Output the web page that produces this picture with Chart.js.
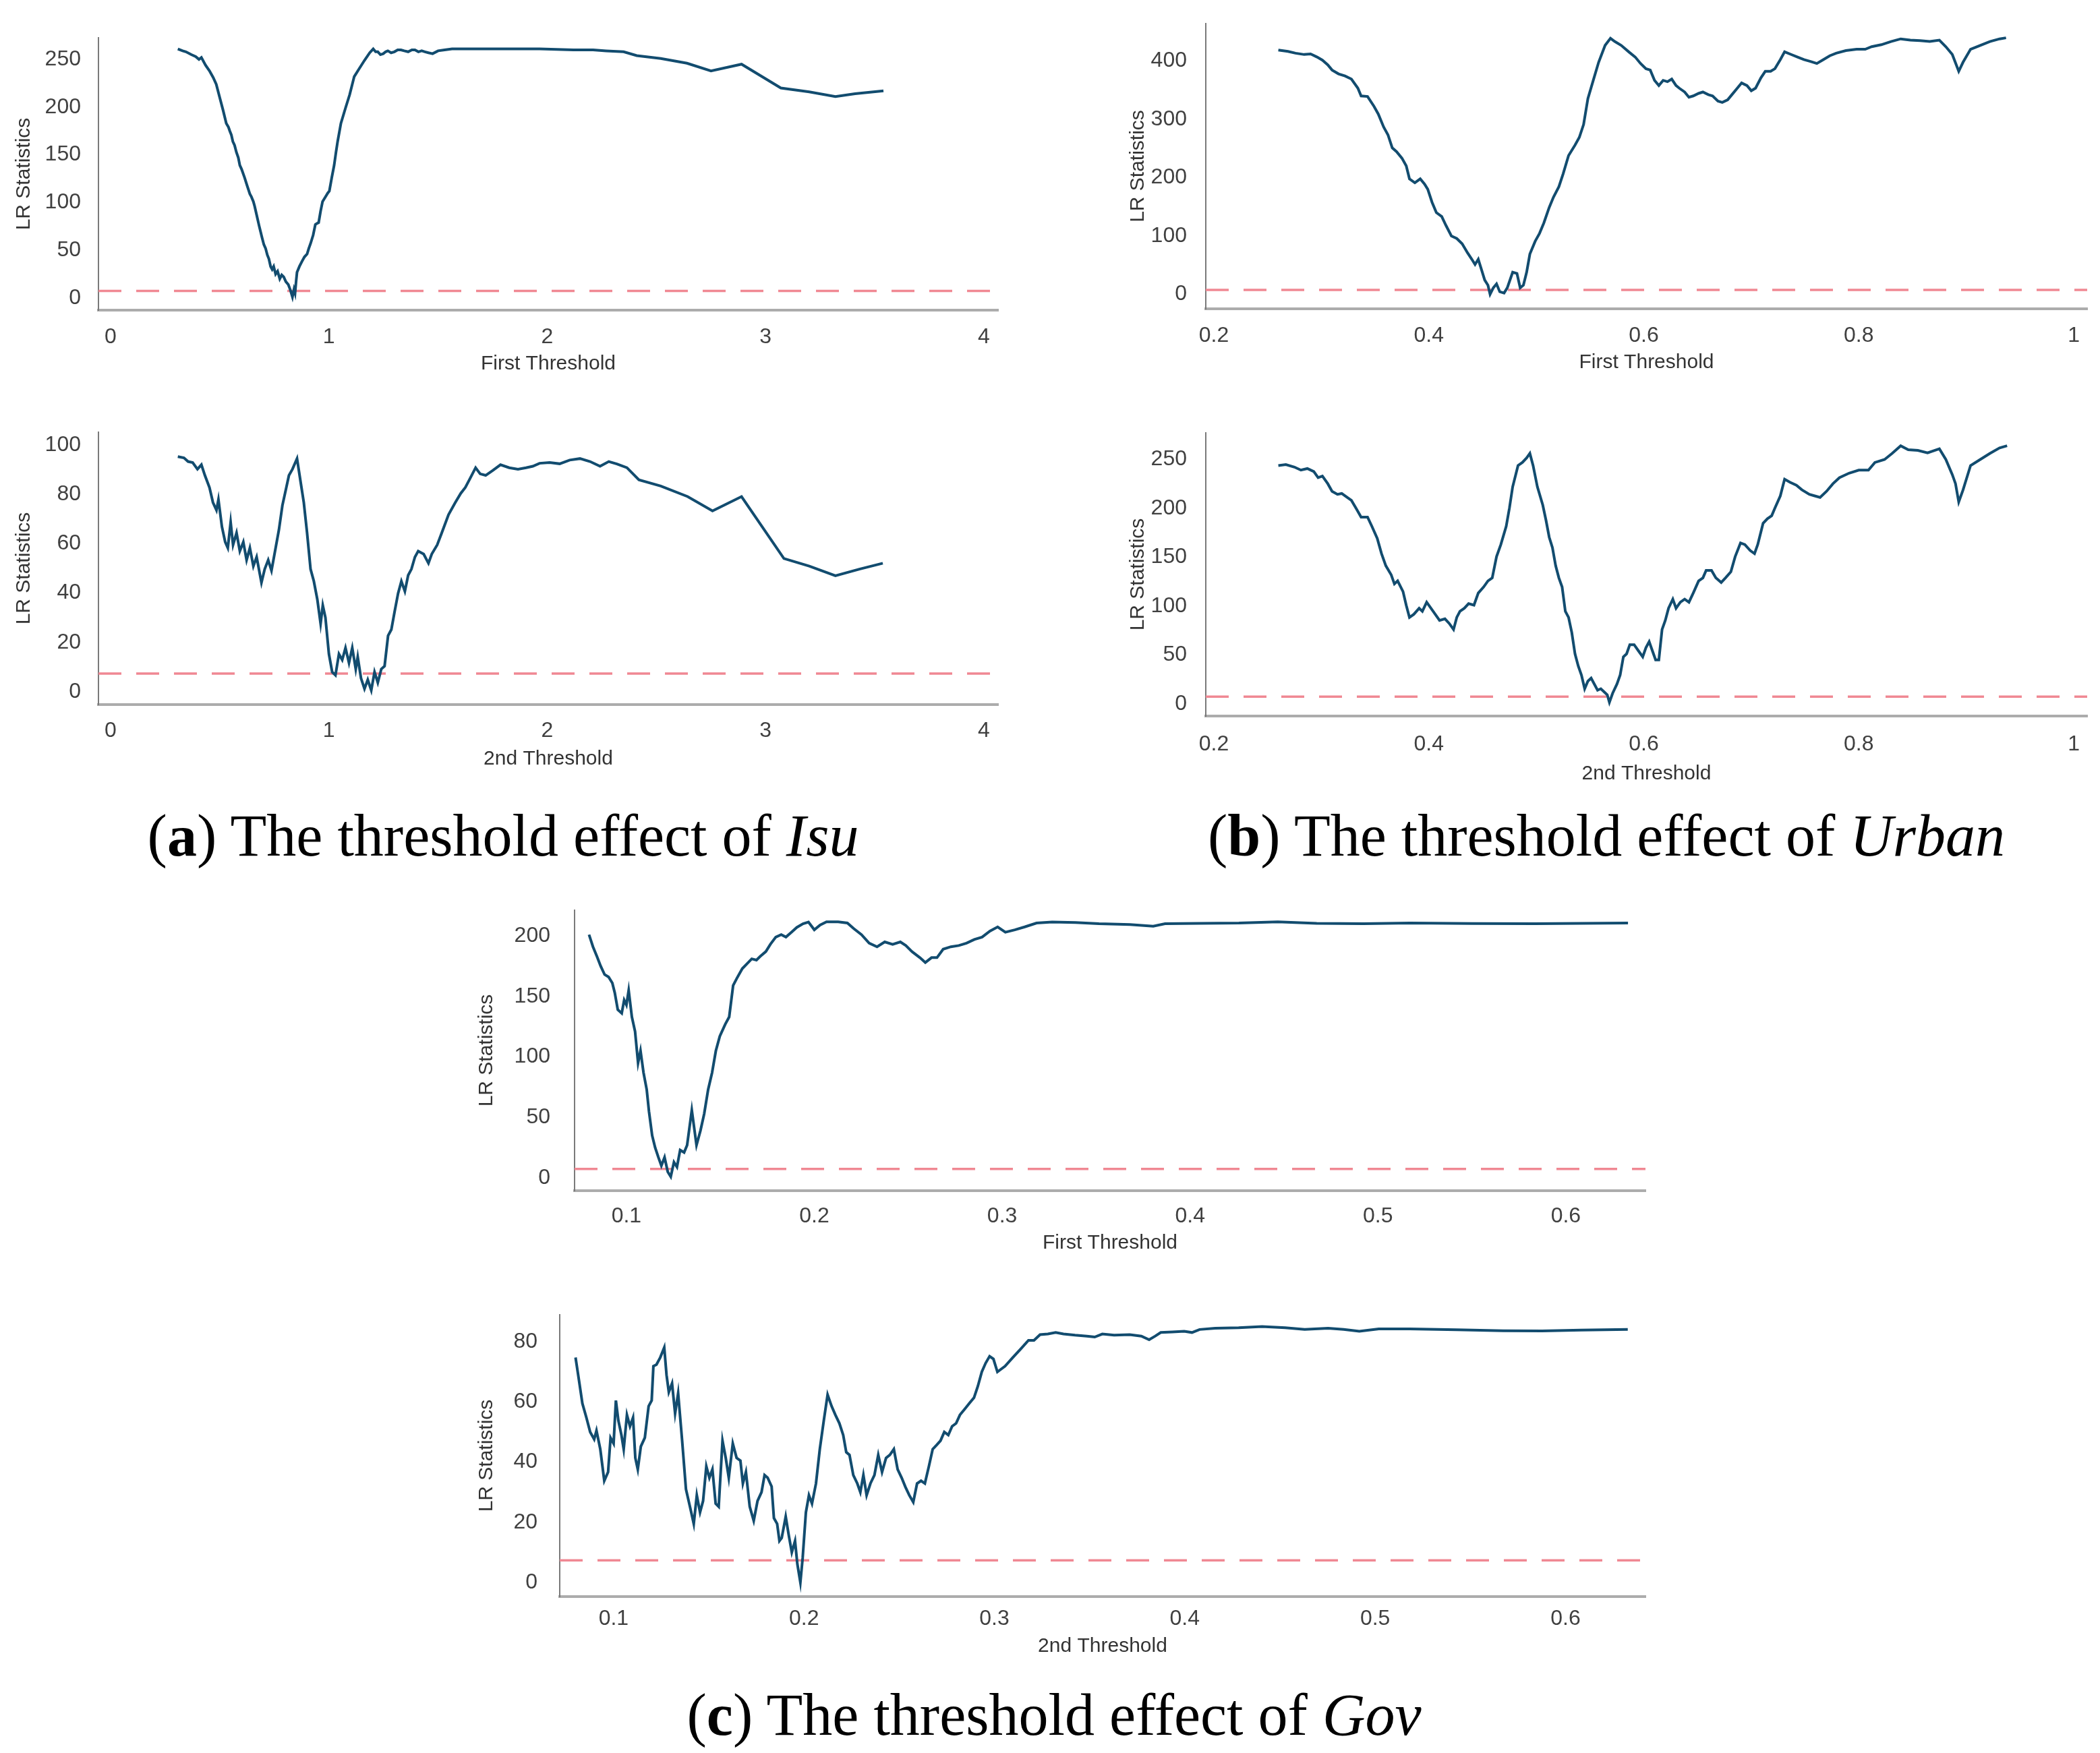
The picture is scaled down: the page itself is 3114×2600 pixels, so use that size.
<!DOCTYPE html>
<html>
<head>
<meta charset="utf-8">
<script src="https://cdn.jsdelivr.net/npm/chart.js@4.4.0/dist/chart.umd.min.js"></script>
<style>
  body { margin: 0; background: #fff; width: 3114px; height: 2600px; position: relative; overflow: hidden; }
  canvas { position: absolute; }
  .cap { position: absolute; transform: translate(-50%, -50%); font-family: "Liberation Serif", "Times New Roman", serif;
         font-size: 88px; line-height: 1; white-space: nowrap; color: #000; }
</style>
</head>
<body>
<div class="cap" style="left:746px; top:1240px">(<b>a</b>) The threshold effect of <i>Isu</i></div>
<div class="cap" style="left:2382px; top:1240px">(<b>b</b>) The threshold effect of <i>Urban</i></div>
<div class="cap" style="left:1563px; top:2544px">(<b>c</b>) The threshold effect of <i>Gov</i></div>

<script>
// critical value of the LR test (dashed line)
const criticalLR = 7.35;

// tick labels
const isuTicksX = [0, 1, 2, 3, 4];
const isuTicksY1 = [0, 50, 100, 150, 200, 250];
const isuTicksY2 = [0, 20, 40, 60, 80, 100];
const urbanTicksX = [0.2, 0.4, 0.6, 0.8, 1];
const urbanTicksY1 = [0, 100, 200, 300, 400];
const urbanTicksY2 = [0, 50, 100, 150, 200, 250];
const govTicksX = [0.1, 0.2, 0.3, 0.4, 0.5, 0.6];
const govTicksY1 = [0, 50, 100, 150, 200];
const govTicksY2 = [0, 20, 40, 60, 80];

// LR statistics, [threshold, LR]
const isuFirst = [[0.308,261],[0.33,259],[0.345,258],[0.37,255],[0.39,253],[0.405,250],[0.416,252],[0.435,244],[0.453,238],[0.47,231],[0.484,224],[0.5,210],[0.515,197],[0.53,183],[0.54,179],[0.546,175],[0.553,171],[0.56,164],[0.568,160],[0.576,153],[0.585,147],[0.592,139],[0.6,135],[0.614,126],[0.625,118],[0.638,109],[0.645,106],[0.654,101],[0.66,96],[0.669,87],[0.68,76],[0.694,63],[0.702,56],[0.71,52],[0.718,45],[0.725,41],[0.733,33],[0.74,30],[0.747,33],[0.756,25],[0.765,28],[0.775,20],[0.784,24],[0.793,22],[0.803,17],[0.814,14],[0.824,8],[0.833,1],[0.84,9],[0.845,5],[0.85,18],[0.854,27],[0.865,33],[0.876,38],[0.888,43],[0.9,46],[0.908,52],[0.916,57],[0.928,66],[0.938,77],[0.945,78],[0.953,79],[0.962,91],[0.971,101],[0.979,104],[0.987,107],[0.995,110],[1.002,112],[1.013,126],[1.024,139],[1.032,152],[1.04,164],[1.055,183],[1.076,199],[1.095,213],[1.116,232],[1.138,240],[1.163,249],[1.187,257],[1.203,261],[1.214,258],[1.224,258],[1.236,255],[1.249,256],[1.26,258],[1.27,259],[1.285,257],[1.3,258],[1.315,260],[1.33,260],[1.345,259],[1.363,258],[1.38,260],[1.394,260],[1.41,258],[1.425,259],[1.44,258],[1.456,257],[1.475,256],[1.5,259],[1.53,260],[1.564,261],[1.656,261],[1.81,261],[1.965,261],[2.12,260],[2.21,260],[2.27,259],[2.35,258],[2.41,254],[2.52,251],[2.64,246],[2.75,238],[2.89,245],[3.07,220],[3.2,216],[3.32,211],[3.41,214],[3.54,217]];

const isuSecond = [[0.308,95.3],[0.336,94.8],[0.355,93.3],[0.376,92.9],[0.398,90.2],[0.416,92],[0.432,87.7],[0.453,82.8],[0.469,76.7],[0.485,73.6],[0.494,77.9],[0.51,66.9],[0.525,60.7],[0.537,58.3],[0.55,68.7],[0.561,59.5],[0.577,64.4],[0.592,57],[0.608,60.7],[0.623,53.4],[0.638,58.3],[0.654,50.9],[0.669,54.6],[0.691,44.2],[0.706,49.7],[0.722,53.4],[0.737,49.1],[0.756,58.3],[0.771,65.6],[0.787,75.5],[0.802,81.6],[0.817,87.7],[0.833,90.2],[0.854,94.5],[0.87,85.3],[0.885,76.7],[0.9,64.4],[0.916,49.7],[0.931,44.8],[0.947,37.4],[0.962,27.6],[0.972,35],[0.984,30.1],[1.0,15.3],[1.015,8],[1.03,6.7],[1.046,15.3],[1.061,12.9],[1.076,17.8],[1.092,11.7],[1.107,17.8],[1.123,9.2],[1.132,14.1],[1.147,5.5],[1.163,1.2],[1.178,4.9],[1.194,0.6],[1.209,8],[1.224,3.7],[1.24,9.2],[1.255,10.4],[1.271,22.7],[1.286,25.2],[1.301,32.5],[1.317,39.9],[1.332,44.8],[1.348,40.7],[1.363,47.2],[1.378,49.7],[1.394,54.6],[1.409,57],[1.434,55.8],[1.456,52.1],[1.471,55.8],[1.496,59.5],[1.517,64.4],[1.548,71.8],[1.579,76.7],[1.604,80.4],[1.625,82.8],[1.647,86.5],[1.672,90.8],[1.693,88.3],[1.718,87.7],[1.749,89.6],[1.786,92],[1.826,90.8],[1.866,90.2],[1.903,90.8],[1.934,91.4],[1.965,92.6],[2.011,92.9],[2.057,92.4],[2.103,93.9],[2.15,94.5],[2.196,93.3],[2.242,91.4],[2.282,93.3],[2.319,92.3],[2.365,90.8],[2.42,85.9],[2.52,83.4],[2.643,79.1],[2.757,73.3],[2.89,79.1],[3.084,54],[3.2,50.9],[3.32,47],[3.43,49.7],[3.537,52.1]];

const urbanFirst = [[0.26,418.7],[0.269,416.4],[0.276,413.3],[0.284,411],[0.29,412],[0.296,406.7],[0.301,401.3],[0.306,393.3],[0.31,384.4],[0.316,377.8],[0.322,374.2],[0.328,368.9],[0.334,353.3],[0.337,340],[0.343,339.1],[0.349,322.2],[0.353,308.9],[0.358,286.7],[0.362,273.3],[0.366,251],[0.37,244.4],[0.375,233.3],[0.379,220],[0.382,197.8],[0.387,191.1],[0.392,197.8],[0.396,188.9],[0.399,180],[0.403,157.8],[0.407,140],[0.412,133.3],[0.416,117.8],[0.421,100],[0.426,95.6],[0.431,86.7],[0.436,71.1],[0.44,60],[0.443,51.1],[0.446,60],[0.449,42.2],[0.452,24.4],[0.455,15.6],[0.457,0],[0.46,11.1],[0.463,17.8],[0.466,4.4],[0.47,2.2],[0.473,11.1],[0.478,37.8],[0.482,35.6],[0.485,11.1],[0.488,15.6],[0.491,37.8],[0.494,68.9],[0.499,91.1],[0.503,104.4],[0.507,122.2],[0.512,148.9],[0.516,166.7],[0.521,184.4],[0.525,206.7],[0.53,237.8],[0.536,255.6],[0.54,268.9],[0.544,291.1],[0.548,335.6],[0.553,366.7],[0.558,397.8],[0.564,426.7],[0.569,438.7],[0.573,433.3],[0.579,426.7],[0.586,415.6],[0.592,406.7],[0.597,395.6],[0.602,386.7],[0.606,384.4],[0.61,366.7],[0.614,357.8],[0.618,366.7],[0.622,364.4],[0.626,368.9],[0.63,357.8],[0.633,353.3],[0.638,346.7],[0.642,337.8],[0.646,340],[0.651,344.4],[0.655,346.7],[0.66,342.2],[0.664,340],[0.669,331.1],[0.673,328.9],[0.678,333.3],[0.682,342.2],[0.687,353.3],[0.691,362.2],[0.696,357.8],[0.7,348.9],[0.704,353.3],[0.709,371.1],[0.713,382.2],[0.718,382.2],[0.722,386.7],[0.727,402.2],[0.731,415.6],[0.737,411.1],[0.743,406.7],[0.749,402.2],[0.755,399.1],[0.761,395.6],[0.767,402.2],[0.773,408.9],[0.779,413.3],[0.788,417.8],[0.798,420],[0.806,420],[0.812,424.4],[0.821,427.8],[0.83,433.3],[0.839,437.8],[0.848,435.6],[0.857,434.7],[0.866,433.3],[0.875,435.6],[0.881,424.4],[0.887,411.1],[0.893,382.2],[0.897,397.8],[0.904,420],[0.913,426.7],[0.922,433.3],[0.931,437.8],[0.937,439.6]];

const urbanSecond = [[0.26,243.8],[0.267,244.7],[0.275,242.2],[0.281,239.1],[0.287,240.7],[0.293,237.6],[0.297,231.4],[0.301,233],[0.306,225.2],[0.31,217.4],[0.315,214.3],[0.319,215.2],[0.324,211.2],[0.328,208.1],[0.333,198.8],[0.337,191],[0.343,191],[0.347,181.7],[0.352,169.3],[0.356,153.7],[0.36,141.3],[0.365,132],[0.368,122.7],[0.371,125.8],[0.376,114.9],[0.379,100.9],[0.382,88.5],[0.386,91.6],[0.391,97.8],[0.394,94.7],[0.398,104],[0.402,97.8],[0.406,91.6],[0.41,85.4],[0.415,87],[0.419,82.3],[0.423,76.1],[0.426,88.5],[0.429,94.7],[0.433,97.8],[0.437,102.5],[0.442,101],[0.446,113.4],[0.451,119.6],[0.455,125.8],[0.459,128.9],[0.463,150.6],[0.467,163],[0.472,181.7],[0.475,200.3],[0.478,222],[0.483,243.8],[0.487,246.9],[0.491,251.6],[0.494,256.2],[0.497,243.8],[0.501,222],[0.506,203.4],[0.509,187.9],[0.512,170.5],[0.515,159.9],[0.518,141.3],[0.521,128.9],[0.524,119.6],[0.527,94.7],[0.53,88.5],[0.533,73],[0.536,51.2],[0.539,38.8],[0.542,29.5],[0.545,15.5],[0.548,23.3],[0.551,26.4],[0.554,20.2],[0.557,14],[0.56,15.5],[0.563,12.4],[0.566,9.3],[0.568,1.6],[0.571,10.9],[0.575,20.2],[0.578,29.5],[0.581,48.1],[0.584,51.2],[0.587,60.6],[0.591,60.6],[0.595,54.3],[0.599,48.1],[0.602,57.5],[0.605,63.7],[0.608,54.3],[0.611,45],[0.614,45],[0.617,76.1],[0.62,85.4],[0.623,97.8],[0.627,107.1],[0.63,97.8],[0.634,104],[0.638,107.1],[0.642,104],[0.646,113.4],[0.651,125.8],[0.655,128.9],[0.658,136.6],[0.663,136.6],[0.667,128.9],[0.672,124.2],[0.676,128.9],[0.681,135.1],[0.685,150.6],[0.69,164.6],[0.694,163],[0.699,156.8],[0.703,153.7],[0.706,163],[0.711,184.8],[0.715,189.4],[0.719,192.5],[0.722,200.3],[0.727,212.7],[0.731,229.8],[0.736,226.7],[0.742,223.6],[0.747,219],[0.754,214.3],[0.759,212.7],[0.764,211.2],[0.77,217.4],[0.776,225.2],[0.782,231.4],[0.791,236],[0.8,239.1],[0.809,239.1],[0.815,246.9],[0.824,250],[0.831,256.2],[0.839,264],[0.846,259.9],[0.855,259.3],[0.864,256.8],[0.875,260.9],[0.881,250],[0.887,234.5],[0.89,225.2],[0.893,206.5],[0.897,218.9],[0.904,243.8],[0.913,250],[0.922,256.2],[0.931,261.8],[0.938,264]];

const govFirst = [[0.0801,201],[0.0822,191],[0.0843,183],[0.0863,175],[0.0884,168],[0.0905,166],[0.0925,161],[0.0938,153],[0.0954,139],[0.0975,136],[0.0988,147],[0.1,143],[0.1012,155],[0.1029,133],[0.1046,121],[0.1062,95],[0.1075,105],[0.1091,87],[0.1108,73],[0.112,55],[0.1137,35],[0.1153,25],[0.117,17],[0.1186,10],[0.1203,17],[0.122,5],[0.1236,1],[0.1253,13],[0.1269,9],[0.1286,23],[0.1307,21],[0.1323,27],[0.1348,56],[0.1373,27],[0.1394,39],[0.1414,53],[0.1435,73],[0.1456,87],[0.1476,105],[0.1497,117],[0.1526,127],[0.1547,133],[0.1568,159],[0.1588,165],[0.1617,173],[0.1642,177],[0.1667,181],[0.1692,180],[0.1712,183],[0.1742,187],[0.1766,193],[0.1795,199],[0.1824,201],[0.1849,199],[0.1878,203],[0.1907,207],[0.194,210],[0.1969,211.4],[0.2,205],[0.2031,209],[0.2065,211.6],[0.2127,211.6],[0.2176,210.6],[0.221,206],[0.2251,201],[0.2292,194],[0.2334,191],[0.2375,195],[0.2417,193],[0.2458,195],[0.2487,192],[0.252,187],[0.2562,182],[0.2591,178],[0.2624,182],[0.2653,182],[0.2686,189],[0.2727,191],[0.2769,192],[0.281,194],[0.2852,197],[0.2893,199],[0.2935,204],[0.2976,207.4],[0.3017,203],[0.3067,205],[0.312,207.4],[0.3183,210.6],[0.3266,211.4],[0.339,211],[0.3515,210],[0.368,209.4],[0.3804,208],[0.3867,210],[0.4053,210.4],[0.426,210.6],[0.4467,211.6],[0.4674,210.4],[0.4923,210],[0.5171,210.6],[0.5503,210.2],[0.5834,210],[0.6083,210.4],[0.6331,210.6]];

const govSecond = [[0.08,74.8],[0.0816,68.1],[0.0836,59.5],[0.0857,54.8],[0.0877,50],[0.0898,47.6],[0.091,50.5],[0.093,44.3],[0.0951,33.8],[0.0971,36.7],[0.0984,48.1],[0.1,46.2],[0.1012,60.5],[0.1025,53.8],[0.1041,49],[0.1053,44.3],[0.107,55.7],[0.1086,51.9],[0.1102,54.8],[0.1114,41.4],[0.1127,37.6],[0.1143,45.2],[0.1164,48.1],[0.1184,58.6],[0.12,60.5],[0.1209,71.9],[0.1225,72.4],[0.1245,74.8],[0.1266,78.1],[0.1278,69],[0.129,63.3],[0.1307,66.2],[0.1323,56.2],[0.1339,62.9],[0.136,47.1],[0.138,31],[0.1401,25.2],[0.1421,19.5],[0.1437,29],[0.1454,23.3],[0.147,27.1],[0.1487,38.6],[0.1503,34.8],[0.1519,37.6],[0.1536,26.2],[0.1552,25.2],[0.1572,47.1],[0.1589,41.4],[0.1605,34.8],[0.1626,46.2],[0.1646,41.4],[0.1666,40.5],[0.1679,32.9],[0.1695,36.7],[0.1715,25.2],[0.1736,20.5],[0.1756,27.1],[0.1777,30],[0.1793,35.7],[0.1809,34.8],[0.183,31.9],[0.1842,21.4],[0.1859,19.5],[0.1871,13.8],[0.1883,14.8],[0.1904,21.9],[0.192,15.7],[0.1936,10],[0.1953,13.8],[0.1965,6.2],[0.1981,0],[0.1993,8.1],[0.201,23.3],[0.2026,29],[0.2042,26.2],[0.2063,32.9],[0.2083,44.3],[0.2104,53.8],[0.2124,62.4],[0.2145,58.6],[0.2165,55.7],[0.2186,52.9],[0.2206,49],[0.2222,43.3],[0.2239,42.4],[0.2259,35.7],[0.228,32.9],[0.2296,30],[0.2312,35.7],[0.2329,29],[0.2349,32.9],[0.237,35.7],[0.239,42.4],[0.241,36.7],[0.2431,41.4],[0.2451,42.4],[0.2472,44.3],[0.2492,37.6],[0.2513,34.8],[0.2533,31.7],[0.2553,29],[0.2574,26.7],[0.2594,32.9],[0.2615,33.8],[0.2635,32.9],[0.2656,38.6],[0.2676,44.3],[0.2697,45.7],[0.2717,47.1],[0.2737,50],[0.2758,49],[0.2778,51.9],[0.2799,52.9],[0.2819,55.7],[0.2844,57.6],[0.2868,59.5],[0.2893,61.4],[0.2913,65.2],[0.2934,70],[0.2954,72.9],[0.2975,75.2],[0.2995,74.3],[0.3016,70],[0.3056,71.9],[0.3097,74.8],[0.3138,77.6],[0.3179,80.5],[0.3208,80.5],[0.324,82.4],[0.3281,82.6],[0.3322,83.1],[0.3363,82.6],[0.3424,82.2],[0.3486,81.9],[0.3527,81.6],[0.3567,82.6],[0.3629,82.2],[0.3711,82.4],[0.3772,81.9],[0.3813,80.7],[0.3845,81.9],[0.3874,83.1],[0.3935,83.3],[0.3997,83.5],[0.4038,83.1],[0.4078,84.1],[0.416,84.5],[0.4283,84.7],[0.4406,85.1],[0.4528,84.7],[0.463,84.1],[0.4753,84.5],[0.4835,84.1],[0.4917,83.5],[0.5019,84.3],[0.5182,84.3],[0.5428,84],[0.5673,83.7],[0.5877,83.6],[0.6082,83.9],[0.6327,84.1]];

const LINE_COLOR = '#124c6f';
const DASH_COLOR = '#f08893';
const TICK_FONT = '"Liberation Sans Narrow", "Liberation Sans", Arial, sans-serif';
const TITLE_FONT = '"Liberation Sans", Arial, sans-serif';
const TICK_SIZE = 32, TITLE_SIZE = 30;

// one panel = one canvas, plot area pinned to page coordinates
function drawPanel(p) {
  const cl = p.yTitleX - 30, ct = p.area.t - 24, cr = p.area.r + 16, cb = p.xTitleY + 30;
  const cv = document.createElement('canvas');
  cv.width = cr - cl;
  cv.height = cb - ct;
  cv.style.left = cl + 'px';
  cv.style.top = ct + 'px';
  document.body.appendChild(cv);

  const tickLH = TICK_SIZE * 1.2, titleLH = TITLE_SIZE * 1.2;
  // keep the layout from shifting the plot area for label overhang
  const noPad = s => { s.paddingTop = 0; s.paddingBottom = 0; s.paddingLeft = 0; s.paddingRight = 0; };

  new Chart(cv, {
    type: 'line',
    data: {
      datasets: [{
        data: p.series.map(d => ({ x: d[0], y: d[1] })),
        borderColor: LINE_COLOR,
        borderWidth: 4,
        pointRadius: 0,
        tension: 0
      }, {
        data: [{ x: p.xMin, y: criticalLR }, { x: p.xMax, y: criticalLR }],
        borderColor: DASH_COLOR,
        borderWidth: 3.5,
        borderDash: [34, 22],
        pointRadius: 0
      }]
    },
    options: {
      responsive: false,
      animation: false,
      devicePixelRatio: 1,
      layout: { padding: { left: 0, top: p.area.t - ct, right: cr - p.area.r, bottom: cb - (p.xTitleY + titleLH / 2) } },
      plugins: { legend: { display: false }, tooltip: { enabled: false } },
      scales: {
        x: {
          type: 'linear',
          min: p.xMin,
          max: p.xMax,
          grid: { display: false },
          border: { display: true, color: '#acacac', width: 4 },
          afterBuildTicks: s => { s.ticks = p.xTicks.map(v => ({ value: v })); },
          afterFit: s => { s.height = p.xTitleY + titleLH / 2 - p.area.b; noPad(s); },
          ticks: {
            padding: p.xLabelY - p.area.b - tickLH / 2,
            color: '#404040',
            font: { family: TICK_FONT, size: TICK_SIZE },
            maxRotation: 0,
            autoSkip: false,
            callback: v => String(v)
          },
          title: { display: true, text: p.xTitle, color: '#333', font: { family: TICK_FONT, size: TITLE_SIZE }, padding: 0 }
        },
        y: {
          type: 'linear',
          min: p.yMin,
          max: p.yMax,
          grid: { display: false },
          border: { display: true, color: '#7a7a7a', width: 2 },
          afterBuildTicks: s => { s.ticks = p.yTicks.map(v => ({ value: v })); },
          afterFit: s => { s.width = p.area.l - cl; noPad(s); },
          ticks: {
            padding: p.yGap,
            color: '#404040',
            font: { family: TICK_FONT, size: TICK_SIZE },
            autoSkip: false,
            callback: v => String(v)
          },
          title: {
            display: true,
            text: 'LR Statistics',
            color: '#333',
            font: { family: TITLE_FONT, size: TITLE_SIZE },
            padding: { top: p.yTitleX - cl - titleLH / 2, bottom: 0 }
          }
        }
      }
    }
  });
}

drawPanel({ series: isuFirst, xTicks: isuTicksX, yTicks: isuTicksY1, xTitle: 'First Threshold',
  area: { l: 146, t: 56, r: 1480, b: 460 }, xMin: -0.0555, xMax: 4.065, yMin: -12.8, yMax: 272.7,
  yGap: 18, xLabelY: 492, xTitleY: 540, yTitleX: 36 });
drawPanel({ series: isuSecond, xTicks: isuTicksX, yTicks: isuTicksY2, xTitle: '2nd Threshold',
  area: { l: 146, t: 641, r: 1480, b: 1045 }, xMin: -0.0555, xMax: 4.065, yMin: -5.2, yMax: 105.2,
  yGap: 18, xLabelY: 1076, xTitleY: 1126, yTitleX: 36 });
drawPanel({ series: urbanFirst, xTicks: urbanTicksX, yTicks: urbanTicksY1, xTitle: 'First Threshold',
  area: { l: 1788, t: 35, r: 3095, b: 458 }, xMin: 0.1925, xMax: 1.0125, yMin: -24.9, yMax: 464,
  yGap: 20, xLabelY: 490, xTitleY: 538, yTitleX: 1688 });
drawPanel({ series: urbanSecond, xTicks: urbanTicksX, yTicks: urbanTicksY2, xTitle: '2nd Threshold',
  area: { l: 1788, t: 642, r: 3095, b: 1062 }, xMin: 0.1925, xMax: 1.0125, yMin: -12.4, yMax: 277.2,
  yGap: 20, xLabelY: 1096, xTitleY: 1148, yTitleX: 1688 });
drawPanel({ series: govFirst, xTicks: govTicksX, yTicks: govTicksY1, xTitle: 'First Threshold',
  area: { l: 852, t: 1350, r: 2440, b: 1766 }, xMin: 0.0724, xMax: 0.6424, yMin: -10.6, yMax: 221.2,
  yGap: 28, xLabelY: 1796, xTitleY: 1844, yTitleX: 722 });
drawPanel({ series: govSecond, xTicks: govTicksX, yTicks: govTicksY2, xTitle: '2nd Threshold',
  area: { l: 830, t: 1950, r: 2440, b: 2368 }, xMin: 0.0717, xMax: 0.642, yMin: -4.7, yMax: 89,
  yGap: 25, xLabelY: 2393, xTitleY: 2442, yTitleX: 722 });
</script>
</body>
</html>
